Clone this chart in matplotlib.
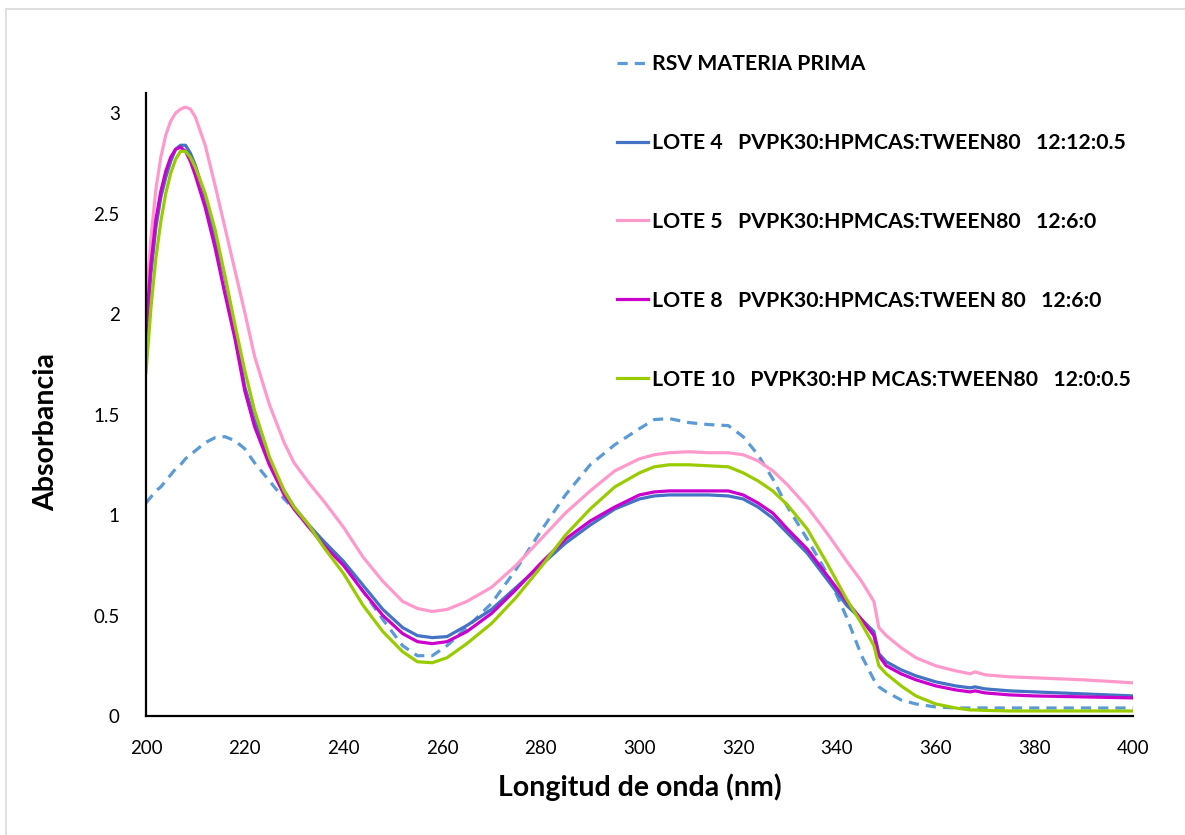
import matplotlib
matplotlib.use("Agg")
import matplotlib.pyplot as plt
from matplotlib.patches import Rectangle
from matplotlib.ticker import FuncFormatter

wavelength = [200, 201, 202, 203, 204, 205, 206, 207, 208, 209, 210, 212, 214, 216, 218, 220,
              222, 225, 228, 230, 233, 236, 240, 244, 248, 252, 255, 258, 261, 265, 270, 275,
              280, 285, 290, 295, 300, 303, 306, 310, 314, 318, 321, 324, 327, 330, 334, 338,
              342, 345, 347.5, 348.5, 350, 353, 356, 360, 364, 367, 368, 370, 375, 380, 390, 400]

rsv = [1.06, 1.09, 1.12, 1.14, 1.17, 1.20, 1.23, 1.25, 1.28, 1.30, 1.32, 1.36, 1.385, 1.39, 1.37, 1.33,
       1.26, 1.17, 1.08, 1.03, 0.94, 0.86, 0.76, 0.62, 0.48, 0.35, 0.30, 0.30, 0.35, 0.44, 0.56, 0.73,
       0.92, 1.10, 1.25, 1.35, 1.43, 1.475, 1.48, 1.46, 1.45, 1.445, 1.39, 1.30, 1.18, 1.04, 0.88, 0.71,
       0.49, 0.30, 0.18, 0.145, 0.12, 0.08, 0.06, 0.045, 0.04, 0.04, 0.04, 0.04, 0.04, 0.04, 0.04, 0.04]

lote4 = [1.88, 2.20, 2.43, 2.58, 2.68, 2.76, 2.82, 2.84, 2.84, 2.80, 2.74, 2.58, 2.38, 2.18, 1.93, 1.64,
         1.47, 1.27, 1.12, 1.04, 0.95, 0.87, 0.77, 0.65, 0.53, 0.44, 0.40, 0.39, 0.395, 0.45, 0.53, 0.64,
         0.75, 0.86, 0.95, 1.03, 1.08, 1.095, 1.10, 1.10, 1.10, 1.095, 1.08, 1.04, 0.985, 0.91, 0.81, 0.68,
         0.55, 0.48, 0.42, 0.31, 0.27, 0.23, 0.20, 0.17, 0.15, 0.14, 0.145, 0.135, 0.125, 0.12, 0.11, 0.10]

lote5 = [2.05, 2.38, 2.62, 2.78, 2.89, 2.96, 3.00, 3.02, 3.03, 3.02, 2.98, 2.84, 2.64, 2.43, 2.22, 2.01,
         1.79, 1.55, 1.36, 1.26, 1.16, 1.07, 0.94, 0.79, 0.67, 0.57, 0.535, 0.52, 0.53, 0.57, 0.64, 0.75,
         0.88, 1.01, 1.12, 1.22, 1.28, 1.30, 1.31, 1.315, 1.31, 1.31, 1.30, 1.27, 1.22, 1.15, 1.04, 0.91,
         0.77, 0.67, 0.57, 0.44, 0.40, 0.34, 0.29, 0.25, 0.225, 0.21, 0.22, 0.205, 0.195, 0.19, 0.18, 0.165]

lote8 = [1.92, 2.25, 2.47, 2.61, 2.71, 2.78, 2.82, 2.83, 2.81, 2.76, 2.69, 2.53, 2.33, 2.10, 1.88, 1.62,
         1.44, 1.25, 1.10, 1.03, 0.94, 0.85, 0.75, 0.62, 0.50, 0.41, 0.37, 0.36, 0.37, 0.42, 0.51, 0.63,
         0.76, 0.88, 0.97, 1.04, 1.10, 1.115, 1.12, 1.12, 1.12, 1.12, 1.10, 1.06, 1.01, 0.93, 0.83, 0.70,
         0.57, 0.48, 0.40, 0.30, 0.25, 0.21, 0.18, 0.15, 0.13, 0.12, 0.125, 0.115, 0.105, 0.10, 0.095, 0.09]

lote10 = [1.71, 2.03, 2.28, 2.46, 2.60, 2.70, 2.77, 2.81, 2.81, 2.78, 2.73, 2.60, 2.42, 2.19, 1.95, 1.72,
          1.52, 1.29, 1.12, 1.04, 0.95, 0.84, 0.71, 0.55, 0.42, 0.32, 0.27, 0.265, 0.29, 0.36, 0.46, 0.59,
          0.74, 0.90, 1.03, 1.14, 1.21, 1.24, 1.25, 1.25, 1.245, 1.24, 1.21, 1.17, 1.12, 1.05, 0.93, 0.76,
          0.58, 0.46, 0.35, 0.25, 0.21, 0.15, 0.10, 0.06, 0.04, 0.03, 0.03, 0.028, 0.025, 0.025, 0.025, 0.025]

labels = [
    "RSV MATERIA PRIMA",
    "LOTE 4   PVPK30:HPMCAS:TWEEN80   12:12:0.5",
    "LOTE 5   PVPK30:HPMCAS:TWEEN80   12:6:0",
    "LOTE 8   PVPK30:HPMCAS:TWEEN 80   12:6:0",
    "LOTE 10   PVPK30:HP MCAS:TWEEN80   12:0:0.5",
]

plt.rcParams["font.family"] = ["Lato", "DejaVu Sans"]

fig = plt.figure(figsize=(11.85, 8.35), dpi=100)
fig.patches.append(Rectangle((6 / 1185, -0.1), 1.2, 1.1 - 9 / 835, transform=fig.transFigure,
                             fill=False, edgecolor="#D9D9D9", linewidth=1.2))
ax = fig.add_axes([146 / 1185, 119 / 835, 987 / 1185, 623 / 835])

ax.plot(wavelength, rsv, color="#5B9BD5", lw=2.3, linestyle=(0, (3.2, 2.2)), label=labels[0])
ax.plot(wavelength, lote4, color="#4472C4", lw=2.3, label=labels[1])
ax.plot(wavelength, lote5, color="#FF99CC", lw=2.3, label=labels[2])
ax.plot(wavelength, lote8, color="#CC00CC", lw=2.3, label=labels[3])
ax.plot(wavelength, lote10, color="#99CC00", lw=2.3, label=labels[4])

ax.set_xlim(200, 400)
ax.set_ylim(0, 3.1)
ax.set_xticks(range(200, 401, 20))
ax.set_yticks([0, 0.5, 1, 1.5, 2, 2.5, 3])
ax.yaxis.set_major_formatter(FuncFormatter(lambda v, p: f"{v:g}"))
ax.tick_params(axis="both", length=0, labelsize=13.5, colors="black")
ax.tick_params(axis="y", pad=19)
ax.tick_params(axis="x", pad=17)

for side in ("top", "right"):
    ax.spines[side].set_visible(False)
for side in ("left", "bottom"):
    ax.spines[side].set_linewidth(1.6)
    ax.spines[side].set_color("black")

ax.set_xlabel("Longitud de onda (nm)", fontsize=20.5, fontweight="bold", labelpad=12)
ax.set_ylabel("Absorbancia", fontsize=20.5, fontweight="bold")
ax.yaxis.set_label_coords(-0.088, 0.456)

leg = ax.legend(loc="upper left", bbox_to_anchor=(598 / 1185, 1 - 35 / 835),
                bbox_transform=fig.transFigure, frameon=False,
                handlelength=1.45, handletextpad=0.2, labelspacing=2.77,
                prop={"weight": "bold", "size": 15.3})

fig.savefig("out.png", dpi=100)
